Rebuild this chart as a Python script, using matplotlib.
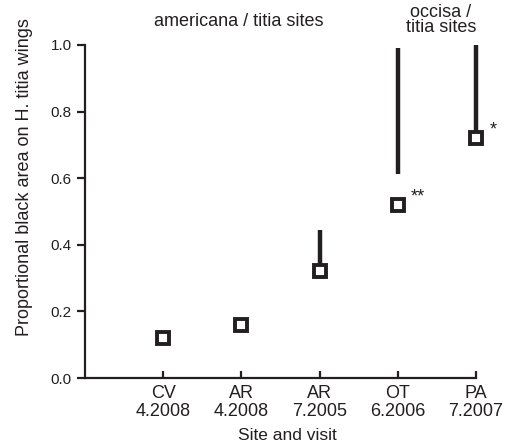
import matplotlib
matplotlib.use("Agg")
import matplotlib.pyplot as plt

plt.rcParams['font.family'] = ['Liberation Sans', 'DejaVu Sans']

categories = ["CV\n4.2008", "AR\n4.2008", "AR\n7.2005", "OT\n6.2006", "PA\n7.2007"]
values = [0.12, 0.16, 0.32, 0.52, 0.72]
err_low = [0.12, 0.16, 0.32, 0.613, 0.72]
err_high = [0.14, 0.16, 0.445, 0.99, 1.0]
signif = ["", "", "", "**", "*"]

ink = '#231f20'
fig = plt.figure(figsize=(5.06, 4.46), dpi=100)
ax = fig.add_axes([85/506, 1-378/446, (476-85)/506, (378-45)/446])

x = list(range(1, len(categories) + 1))
ax.vlines(x, err_low, err_high, color=ink, lw=3.2, clip_on=False, zorder=2)
ax.plot(x, values, linestyle='none', marker='s', markersize=8.5,
        markerfacecolor='white', markeredgecolor=ink, markeredgewidth=2.8,
        clip_on=False, zorder=3)
for xi, v, s in zip(x, values, signif):
    if s:
        ax.text(xi + 0.17, v + 0.025, s, fontsize=13, ha='left', va='center', color=ink)

ax.set_xlim(0, 5)
ax.set_ylim(0, 1)
ax.set_xticks(x)
ax.set_xticklabels(categories, fontsize=13, linespacing=1.05)
ax.set_yticks([0.0, 0.2, 0.4, 0.6, 0.8, 1.0])
ax.set_yticklabels(["0.0", "0.2", "0.4", "0.6", "0.8", "1.0"], fontsize=11)
for sp in ['top', 'right']:
    ax.spines[sp].set_visible(False)
for sp in ['left', 'bottom']:
    ax.spines[sp].set_linewidth(1.6)
    ax.spines[sp].set_color(ink)
ax.tick_params(axis='y', direction='out', width=1.6, length=6, color=ink, pad=3.5, labelcolor=ink)
ax.tick_params(axis='x', direction='in', width=1.6, length=5, color=ink, pad=5, labelcolor=ink)
ax.set_xlabel("Site and visit", fontsize=12.5, color=ink)
ax.xaxis.set_label_coords((287-85)/391, (378-428)/333)
ax.set_ylabel("Proportional black area on H. titia wings", fontsize=13, color=ink)
ax.yaxis.set_label_coords((33-85)/391, (378-177)/333)

fig.text(239/506, 1-21/446, "americana / titia sites", fontsize=13, ha='center', va='center', color=ink)
fig.text(441/506, 1-20/446, "occisa /\ntitia sites", fontsize=13, ha='center', va='center',
         linespacing=0.8, color=ink)

fig.savefig("out.png", dpi=100)
